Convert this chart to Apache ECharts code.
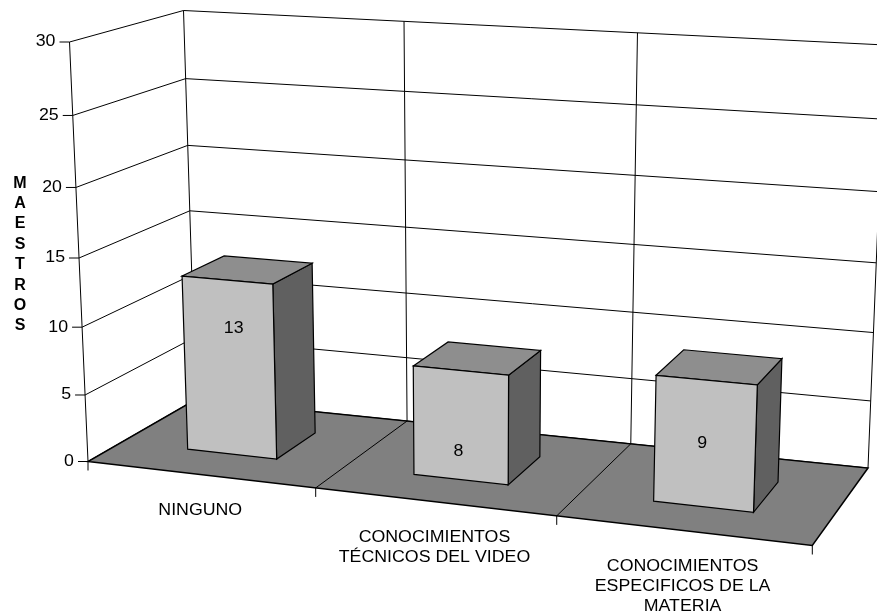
<!DOCTYPE html>
<html>
<head>
<meta charset="utf-8">
<title>Maestros</title>
<script src="https://cdn.jsdelivr.net/npm/echarts@6/dist/echarts.min.js"></script>
<style>
  html, body { margin: 0; padding: 0; background: #fff; }
  #chart { width: 877px; height: 614px; }
</style>
</head>
<body>
<div id="chart"></div>
<script>
const categories = ['NINGUNO', 'CONOCIMIENTOS\nTÉCNICOS DEL VIDEO', 'CONOCIMIENTOS\nESPECIFICOS DE LA\nMATERIA'];
const values = [13, 8, 9];
const yTicks = [0, 5, 10, 15, 20, 25, 30];
const yTitle = 'MAESTROS';

// where the number sits on each bar's front face, in axis units
const labelLift = [9.5, 2.05, 4.5];
const labelShift = [0.023, -0.01, -0.01];

const FONT = '"Liberation Sans", Arial, sans-serif';
const TEXT_STRETCH = 1.11;
const BAR_HALF = 0.2;
const BAR_FRONT = 0.3;
const BAR_BACK = 0.7;

// corners of the box, keys are x, height, depth
const box = {
  '000': [88, 461.5], '100': [812.3, 545.5],
  '010': [69.5, 42], '110': [829, 87.5],
  '001': [195.7, 399.5], '101': [868, 468],
  '011': [183.5, 10.5], '111': [885, 45]
};

function warp(t, k){
  return t * (1 + k) / (1 + k * t);
}

function mix(p, q, t){
  return p + (q - p) * t;
}

// plot coordinates from the hidden axes -> perspective picture coordinates
function project(api, x, v, z){
  const c = api.coord([x, v]);
  const a = api.coord([0, 0]);
  const b = api.coord([categories.length, yTicks[yTicks.length - 1]]);
  const u = warp((c[0] - a[0]) / (b[0] - a[0]), -0.083);
  const h = warp((c[1] - a[1]) / (b[1] - a[1]), -0.058);
  const d = warp(z, 0.0875);
  const out = [0, 0];
  for (let i = 0; i < 2; i++) {
    const front = mix(mix(box['000'][i], box['100'][i], u), mix(box['010'][i], box['110'][i], u), h);
    const back = mix(mix(box['001'][i], box['101'][i], u), mix(box['011'][i], box['111'][i], u), h);
    out[i] = mix(front, back, d);
  }
  return out;
}

function line(p, q){
  return {
    type: 'line',
    shape: { x1: p[0], y1: p[1], x2: q[0], y2: q[1] },
    style: { stroke: '#000', lineWidth: 1 }
  };
}

function poly(points, fill, width){
  return {
    type: 'polygon',
    shape: { points: points },
    style: { fill: fill, stroke: '#000', lineWidth: width }
  };
}

function text(str, x, y, align, vAlign){
  return {
    type: 'text',
    x: x,
    y: y,
    scaleX: TEXT_STRETCH,
    style: {
      text: str, x: 0, y: 0,
      align: align, verticalAlign: vAlign,
      font: '16px ' + FONT, fill: '#000', lineHeight: 20
    }
  };
}

function renderGridLine(params, api){
  const v = api.value(0);
  const start = project(api, 0, v, 0);
  const corner = project(api, 0, v, 1);
  return {
    type: 'group',
    children: [
      text(String(v), start[0] - 14, start[1], 'right', 'middle'),
      line([start[0] - 10, start[1]], start),
      line(start, corner),
      line(corner, project(api, categories.length, v, 1))
    ]
  };
}

function renderDivider(params, api){
  const x = api.value(0);
  const yMax = yTicks[yTicks.length - 1];
  return line(project(api, x, 0, 1), project(api, x, yMax, 1));
}

function renderFloor(params, api){
  const xMax = categories.length;
  const yMax = yTicks[yTicks.length - 1];
  return {
    type: 'group',
    children: [
      line(project(api, 0, 0, 0), project(api, 0, yMax, 0)),
      poly([project(api, 0, 0, 0), project(api, xMax, 0, 0), project(api, xMax, 0, 1), project(api, 0, 0, 1)], '#808080', 1.5)
    ]
  };
}

function renderXTick(params, api){
  const x = api.value(0);
  const front = project(api, x, 0, 0);
  const children = [line(front, [front[0], front[1] + 9])];
  if (x > 0 && x < categories.length) children.push(line(front, project(api, x, 0, 1)));
  return { type: 'group', children: children };
}

function renderCategory(params, api){
  const front = project(api, api.value(0), 0, 0);
  return text(categories[params.dataIndex], front[0], front[1] + 26, 'center', 'top');
}

function renderBar(params, api){
  const x = api.value(0);
  const v = api.value(1);
  const l = x - BAR_HALF;
  const r = x + BAR_HALF;
  const ftl = project(api, l, v, BAR_FRONT);
  const ftr = project(api, r, v, BAR_FRONT);
  const fbl = project(api, l, 0, BAR_FRONT);
  const fbr = project(api, r, 0, BAR_FRONT);
  const btl = project(api, l, v, BAR_BACK);
  const btr = project(api, r, v, BAR_BACK);
  const bbr = project(api, r, 0, BAR_BACK);
  const mark = project(api, x + labelShift[params.dataIndex], labelLift[params.dataIndex], BAR_FRONT);
  return {
    type: 'group',
    children: [
      poly([ftr, btr, bbr, fbr], '#606060', 1.2),
      poly([ftl, btl, btr, ftr], '#8E8E8E', 1.2),
      poly([ftl, ftr, fbr, fbl], '#C0C0C0', 1.2),
      text(String(v), mark[0], mark[1], 'center', 'middle')
    ]
  };
}

function customSeries(data, renderItem){
  return { type: 'custom', coordinateSystem: 'cartesian2d', silent: true, clip: false, data: data, renderItem: renderItem };
}

const boundaries = categories.map((c, i) => [i]).concat([[categories.length]]);

const chart = echarts.init(document.getElementById('chart'), null, { renderer: 'canvas' });
chart.setOption({
  animation: false,
  backgroundColor: '#fff',
  title: {
    text: yTitle.split('').join('\n'),
    left: 20,
    top: 173,
    textAlign: 'center',
    padding: 0,
    textStyle: { fontFamily: FONT, fontSize: 16, fontWeight: 'bold', color: '#000', lineHeight: 20.4 }
  },
  grid: { left: 0, right: 0, top: 0, bottom: 0 },
  xAxis: { type: 'value', min: 0, max: categories.length, interval: 1, show: false },
  yAxis: { type: 'value', min: 0, max: 30, interval: 5, show: false },
  series: [
    customSeries(yTicks.map((v) => [v]), renderGridLine),
    customSeries(boundaries, renderDivider),
    customSeries([[0]], renderFloor),
    customSeries(boundaries, renderXTick),
    customSeries(categories.map((c, i) => [i + 0.5]), renderCategory),
    customSeries(values.map((v, i) => [i + 0.5, v]), renderBar)
  ]
});
window.addEventListener('resize', () => chart.resize());
</script>
</body>
</html>
